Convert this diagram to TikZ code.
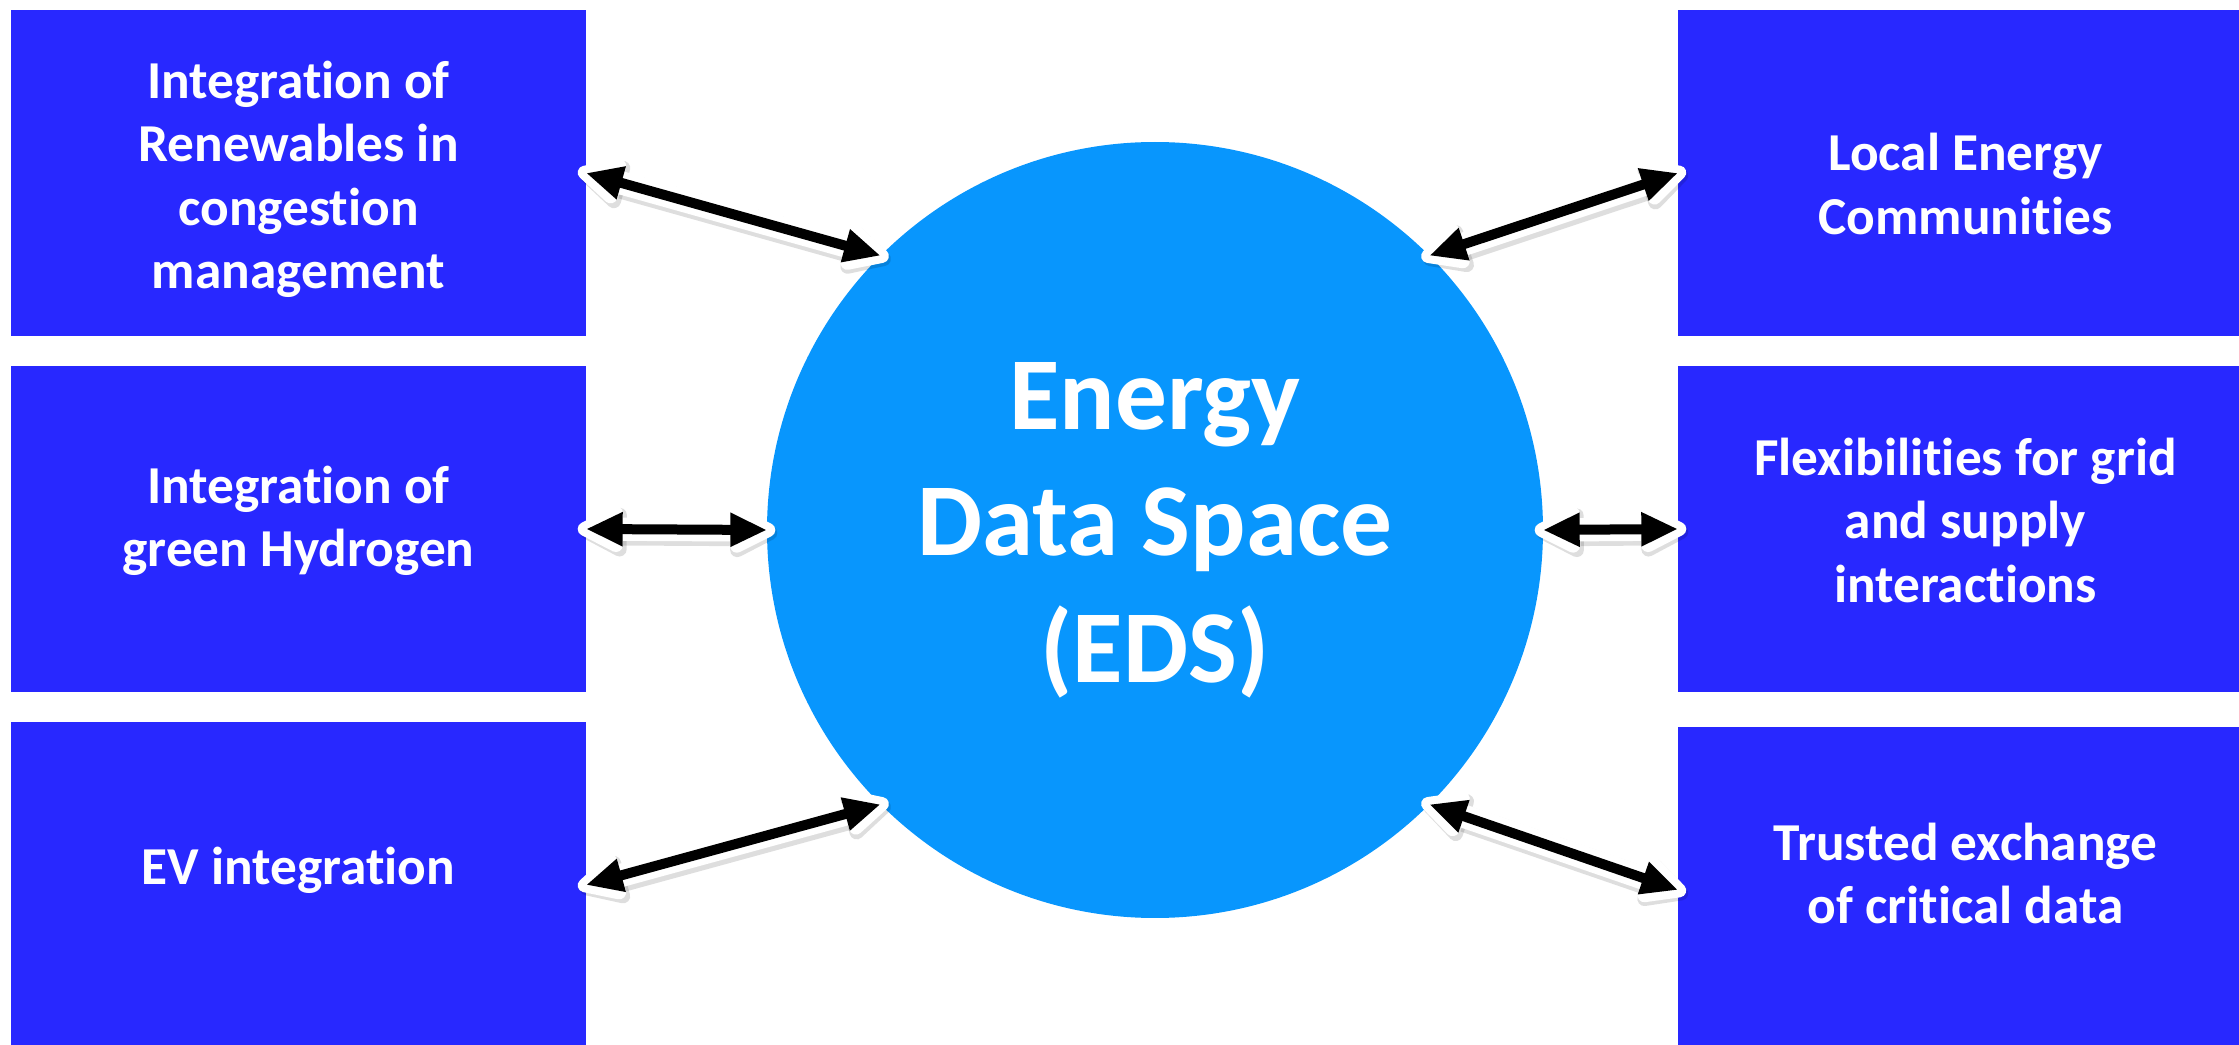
\documentclass[tikz,border=0pt]{standalone}
\usepackage{fontspec}
\setmainfont{Carlito}[Ligatures=CommonOff]
\usetikzlibrary{arrows.meta,positioning}

\definecolor{boxblue}{RGB}{40,40,255}
\definecolor{edsblue}{RGB}{8,150,253}

\begin{document}
\begin{tikzpicture}[x=0.3pt, y=-0.3pt, node distance=9pt, >={Triangle[length=11pt,width=9.5pt]}]

    \tikzstyle{topic}=[fill=boxblue, text=white, minimum width=172.5pt, minimum height=97.8pt, inner sep=0pt, outer sep=0pt, align=center, font=\bfseries\fontsize{16}{19}\selectfont]
    \tikzstyle{hub}=[circle, fill=edsblue, text=white, minimum size=232.8pt, inner sep=0pt, outer sep=0pt, align=center, font=\bfseries\fontsize{31}{38}\selectfont]
    \tikzstyle{link}=[<->, draw=black, line width=3pt,
      preaction={draw=black, draw opacity=0.13, line width=8pt, line join=round, arrows={Triangle[length=17pt,width=16pt,round]-Triangle[length=17pt,width=16pt,round]}, shorten <=-2.5pt, shorten >=-2.5pt, transform canvas={shift={(0.6pt,-0.9pt)}}},
      preaction={draw=white, line width=7pt, line join=round, arrows={Triangle[length=16.5pt,width=15pt,round]-Triangle[length=16.5pt,width=15pt,round]}, shorten <=-2.5pt, shorten >=-2.5pt}]

    \path[use as bounding box, clip] (0,0) rectangle (2239,1045);

    \node[hub] (eds) at (1155,530) {Energy\\Data Space\\(EDS)};

    % text height / depth only nudge the lines inside the boxes
    \node[topic, text height=72pt] (ren) at (298.5,173) {Integration of\\Renewables in\\congestion\\management};
    \node[topic, text depth=7.5pt] (hyd) [below=of ren] {Integration of\\green Hydrogen};
    \node[topic, text depth=11.5pt] (ev)  [below=of hyd] {EV integration};

    \node[topic, text height=36.8pt] (lec)   at (1965.5,173) {Local Energy\\Communities};
    \node[topic, text depth=5.4pt] (flex)  [below=of lec] {Flexibilities for grid\\and supply\\interactions};
    \node[topic, text depth=10pt] (trust) [below=10.5pt of flex] {Trusted exchange\\of critical data};

    \path (ren.east) edge[link] (eds.135)
          (hyd.east) edge[link] (eds.west)
          (ev.east)  edge[link] (eds.225)
          (lec.west) edge[link] (eds.45)
          (flex.west) edge[link] (eds.east)
          (trust.west) edge[link] (eds.315)
    ;
\end{tikzpicture}
\end{document}
